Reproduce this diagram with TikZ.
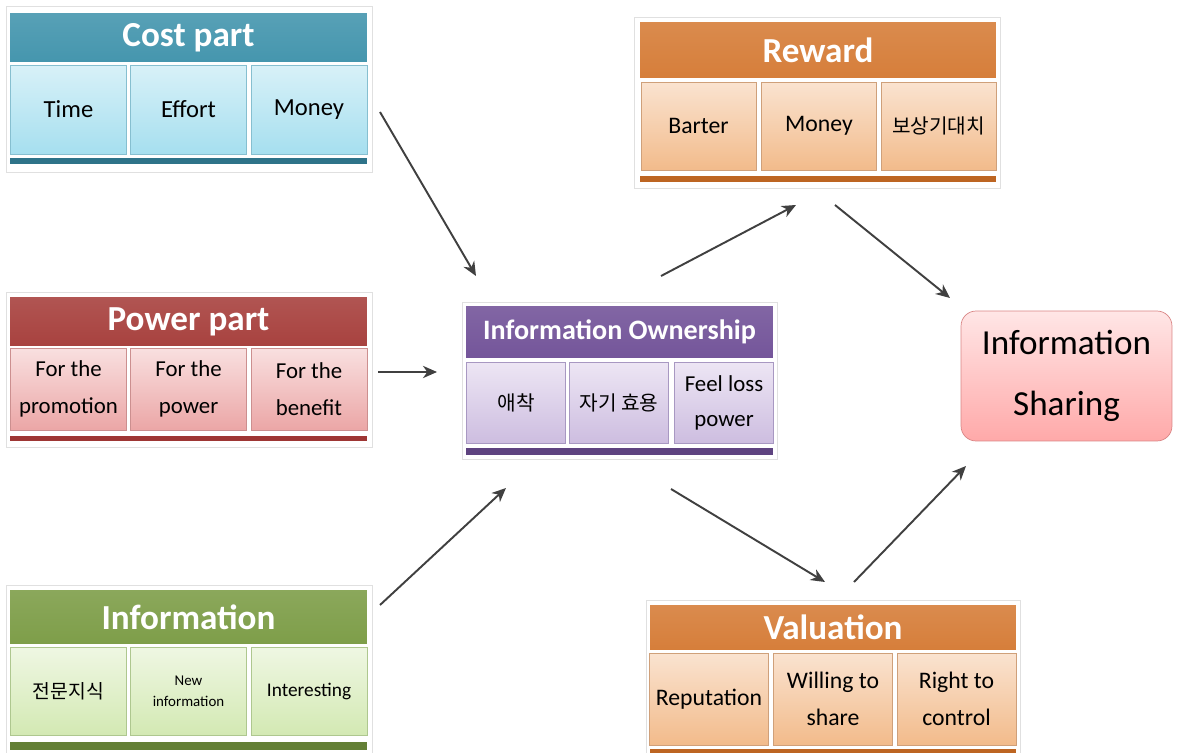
\documentclass[tikz,border=0pt]{standalone}
\usepackage{fontspec}
\setmainfont{Carlito}
\newfontfamily\kr{Noto Sans CJK KR}
\usetikzlibrary{arrows.meta}

% panel colours: header, cell top, cell bottom, cell edge, bar
\definecolor{costA}{HTML}{4596AE}
\definecolor{costB}{HTML}{D8F1F8}
\definecolor{costC}{HTML}{A6DFEF}
\definecolor{costD}{HTML}{86BFD0}
\definecolor{costE}{HTML}{2E7389}
\definecolor{powA}{HTML}{A8423F}
\definecolor{powB}{HTML}{F9E0E0}
\definecolor{powC}{HTML}{EBA6A6}
\definecolor{powD}{HTML}{CC8F8F}
\definecolor{powE}{HTML}{9E3634}
\definecolor{infA}{HTML}{7E9E49}
\definecolor{infB}{HTML}{EFF7E3}
\definecolor{infC}{HTML}{D3E9B3}
\definecolor{infD}{HTML}{AEC78F}
\definecolor{infE}{HTML}{637F35}
\definecolor{ownA}{HTML}{74559A}
\definecolor{ownB}{HTML}{EDE6F4}
\definecolor{ownC}{HTML}{CDBDE0}
\definecolor{ownD}{HTML}{A898C2}
\definecolor{ownE}{HTML}{5E4380}
\definecolor{rewA}{HTML}{D67E3A}
\definecolor{rewB}{HTML}{FAE3D0}
\definecolor{rewC}{HTML}{F2BB8B}
\definecolor{rewD}{HTML}{CFA07A}
\definecolor{rewE}{HTML}{BD6522}
\definecolor{shareA}{HTML}{FFE6E6}
\definecolor{shareB}{HTML}{FFA9A9}
\definecolor{shareD}{HTML}{D98585}

\tikzset{
  frame/.style={draw=black!12, fill=white},
  head/.style={inner sep=0pt, text=white, font=\fontsize{20}{24}\selectfont\bfseries},
  cell/.style={inner sep=2pt, align=center, font=\fontsize{13}{21}\selectfont},
  bar/.style={inner sep=0pt, minimum height=0.12cm},
  link/.style={draw=black!75, line width=1.1pt, -{Stealth[length=8pt,width=7pt,inset=2.5pt]}},
  % wide panels on the left and right
  costhead/.style={head, top color=costA!90!white, bottom color=costA, minimum width=7.14cm, minimum height=0.98cm},
  costcell/.style={cell, top color=costB, bottom color=costC, draw=costD, minimum width=2.32cm, minimum height=1.78cm, font=\fontsize{14}{21}\selectfont},
  powhead/.style={head, top color=powA!90!white, bottom color=powA, minimum width=7.14cm, minimum height=0.98cm},
  powcell/.style={cell, top color=powB, bottom color=powC, draw=powD, minimum width=2.32cm, minimum height=1.64cm},
  infhead/.style={head, top color=infA!90!white, bottom color=infA, minimum width=7.14cm, minimum height=1.08cm},
  infcell/.style={cell, top color=infB, bottom color=infC, draw=infD, minimum width=2.32cm, minimum height=1.76cm},
  ownhead/.style={head, top color=ownA!90!white, bottom color=ownA, minimum width=6.14cm, minimum height=1.04cm, font=\fontsize{16}{20}\selectfont\bfseries},
  owncell/.style={cell, top color=ownB, bottom color=ownC, draw=ownD, minimum width=1.98cm, minimum height=1.62cm},
  rewhead/.style={head, top color=rewA!90!white, bottom color=rewA, minimum width=7.12cm, minimum height=1.12cm},
  rewcell/.style={cell, top color=rewB, bottom color=rewC, draw=rewD, minimum width=2.30cm, minimum height=1.76cm, font=\fontsize{13.5}{21}\selectfont},
  valhead/.style={head, top color=rewA!90!white, bottom color=rewA, minimum width=7.32cm, minimum height=0.9cm},
  valcell/.style={cell, top color=rewB, bottom color=rewC, draw=rewD, minimum width=2.38cm, minimum height=1.84cm, font=\fontsize{13.5}{21}\selectfont},
  goal/.style={draw=shareD, top color=shareA, bottom color=shareB, rounded corners=0.3cm, align=center,
    minimum width=4.22cm, minimum height=2.6cm, font=\fontsize{20}{35}\selectfont},
}

\begin{document}
\begin{tikzpicture}[x=0.02cm, y=-0.02cm]
  \useasboundingbox (0,0) rectangle (1177,753);

  % Cost part
  \draw[frame] (6,6) rectangle (372,172);
  \node[costhead] (costHead) at (188.5,37.5) {Cost part};
  \node[costcell] (costTime) at (68.5,109.5) {Time};
  \node[costcell] (costEffort) at (188.5,109.5) {Effort};
  \node[costcell] (costMoney) at (309,109.5) {Money};
  \node[bar, fill=costE, minimum width=7.14cm] (costBar) at (188.5,161.5) {};

  % Power part
  \draw[frame] (6,292) rectangle (372,447);
  \node[powhead] (powHead) at (188.5,321.5) {Power part};
  \node[powcell] (powPromo) at (68.5,389) {For the\\promotion};
  \node[powcell] (powPower) at (188.5,389) {For the\\power};
  \node[powcell] (powBenefit) at (309,389) {For the\\benefit};
  \node[bar, fill=powE, minimum width=7.14cm, minimum height=0.1cm] (powBar) at (188.5,438.5) {};

  % Information
  \draw[frame] (6,585) rectangle (372,760);
  \node[infhead] (infHead) at (188.5,617) {Information};
  \node[infcell] (infExpert) at (68.5,691) {\kr\fontsize{11}{14}\selectfont 전문지식};
  \node[infcell, font=\fontsize{8.5}{12}\selectfont] (infNew) at (188.5,691) {New\\information};
  \node[infcell, font=\fontsize{11}{14}\selectfont] (infInterest) at (309,691) {Interesting};
  \node[bar, fill=infE, minimum width=7.14cm, minimum height=0.16cm] (infBar) at (188.5,746) {};

  % Information Ownership
  \draw[frame] (462,302) rectangle (777,459);
  \node[ownhead] (ownHead) at (619.5,332) {Information Ownership};
  \node[owncell] (ownAttach) at (516,402.5) {\kr\fontsize{11.5}{14}\selectfont 애착};
  \node[owncell] (ownEfficacy) at (619,402.5) {\kr\fontsize{11.5}{14}\selectfont 자기 효용};
  \node[owncell, font=\fontsize{13}{20}\selectfont] (ownLoss) at (724,402.5) {Feel loss\\power};
  \node[bar, fill=ownE, minimum width=6.14cm, minimum height=0.14cm] (ownBar) at (619.5,451.5) {};

  % Reward
  \draw[frame] (634,17) rectangle (1000,188);
  \node[rewhead] (rewHead) at (818,50) {Reward};
  \node[rewcell] (rewBarter) at (698.5,126) {Barter};
  \node[rewcell] (rewMoney) at (819,126) {Money};
  \node[rewcell] (rewExpect) at (938.5,126) {\kr\fontsize{11.5}{14}\selectfont 보상기대치};
  \node[bar, fill=rewE, minimum width=7.12cm] (rewBar) at (818,179) {};

  % Valuation
  \draw[frame] (646,600) rectangle (1020,770);
  \node[valhead] (valHead) at (833,627.5) {Valuation};
  \node[valcell] (valRepute) at (709,699) {Reputation};
  \node[valcell] (valWilling) at (833,699) {Willing to\\share};
  \node[valcell] (valRight) at (956.5,699) {Right to\\control};
  \node[bar, fill=rewE, minimum width=7.32cm, minimum height=0.16cm] (valBar) at (833,753) {};

  % Information Sharing
  \node[goal] (share) at (1066.5,376) {Information\\Sharing};

  % arrow end points
  \coordinate (costOut) at (380,112);
  \coordinate (costIn) at (476,276);
  \coordinate (powOut) at (378,372);
  \coordinate (powIn) at (437,372);
  \coordinate (infOut) at (380,605);
  \coordinate (infIn) at (506,488);
  \coordinate (ownUp) at (661,276);
  \coordinate (rewIn) at (796,205);
  \coordinate (rewOut) at (835,205);
  \coordinate (shareTop) at (950,298);
  \coordinate (ownDown) at (671,489);
  \coordinate (valIn) at (825,582);
  \coordinate (valOut) at (854,582);
  \coordinate (shareBot) at (966,466);

  % Draw arrows
  \draw[link] (costOut) -- (costIn);
  \draw[link] (powOut) -- (powIn);
  \draw[link] (infOut) -- (infIn);
  \draw[link] (ownUp) -- (rewIn);
  \draw[link] (rewOut) -- (shareTop);
  \draw[link] (ownDown) -- (valIn);
  \draw[link] (valOut) -- (shareBot);
\end{tikzpicture}
\end{document}
